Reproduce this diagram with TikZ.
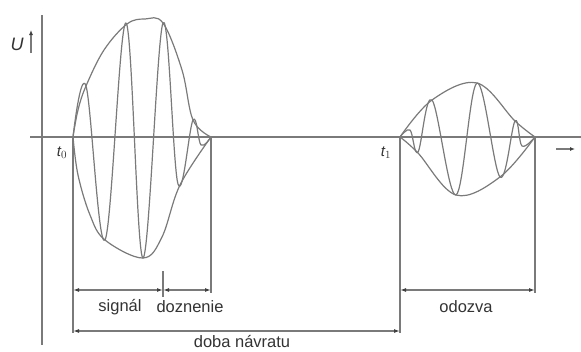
\documentclass[tikz,border=0pt]{standalone}
\usepackage{fontspec}
\setmainfont{Liberation Sans}
\usetikzlibrary{arrows.meta}
\definecolor{ln}{HTML}{7A7A7A}
\definecolor{hd}{HTML}{404040}
\definecolor{tx}{HTML}{333333}
\begin{document}
\begin{tikzpicture}[x=1pt,y=-1pt,
  axis/.style={draw=ln, line width=1.6pt},
  wave/.style={draw=ln, line width=1.2pt, line join=round},
  ext/.style={draw=ln, line width=1.3pt},
  dim/.style={draw=ln, line width=1.2pt, {Latex[length=6pt,width=4pt,color=hd]}-{Latex[length=6pt,width=4pt,color=hd]}},
  lbl/.style={text=tx, font=\fontsize{16.5}{17}\selectfont, inner sep=0pt},
  tlbl/.style={text=tx, font=\fontsize{15}{15}\selectfont\itshape, inner sep=0pt}]
\useasboundingbox (0,0) rectangle (581,351);
% axes
\coordinate (ytop) at (42,15); \coordinate (ybot) at (42,345);
\coordinate (xl) at (30,137); \coordinate (xr) at (581,137);
\draw[axis] (ytop) -- (ybot);
\draw[axis] (xl) -- (xr);
% labels on axes
\node[lbl, font=\fontsize{18}{18}\selectfont\itshape] (U) at (17,44) {U};
\coordinate (ua1) at (31,53); \coordinate (ua2) at (31,30);
\draw[draw=ln, line width=1.3pt, -{Latex[length=5pt,width=4pt,color=hd]}] (ua1) -- (ua2);
\coordinate (ta1) at (556,149); \coordinate (ta2) at (575,149);
\draw[draw=ln, line width=1.3pt, -{Latex[length=5pt,width=4pt,color=hd]}] (ta1) -- (ta2);
\node[tlbl] (t0) at (62,153) {t$_0$};
\node[tlbl] (t1) at (386,153) {t$_1$};
% signal 1 envelope
\draw[wave] plot[smooth, tension=0.6] coordinates {(73,137) (78,110) (86,86) (104,50) (127,24) (145,19) (163,23) (182,70) (193,120) (211,137)};
\draw[wave] plot[smooth, tension=0.6] coordinates {(73,137) (78,175) (90,215) (105,240) (143,258) (162,237) (180,185) (211,137)};
% signal 1 wave
\draw[wave] plot[smooth, tension=0.6] coordinates {(73,137) (86,86) (105,240) (126,23) (143,258) (163,23) (178,184) (193,120) (201,145) (211,137)};
% signal 2 envelope
\draw[wave] plot[smooth, tension=0.6] coordinates {(400,137) (432,100) (477,83) (515,121) (535,137)};
\draw[wave] plot[smooth, tension=0.6] coordinates {(400,137) (418,153) (456,195) (500,177) (535,137)};
% signal 2 wave
\draw[wave] plot[smooth, tension=0.6] coordinates {(400,137) (410,130) (418,152) (432,100) (456,195) (477,83) (500,177) (515,121) (522,146) (535,137)};
% extension lines
\coordinate (e1a) at (73,137); \coordinate (e1b) at (73,333);
\coordinate (e2a) at (211,137); \coordinate (e2b) at (211,293);
\coordinate (e3a) at (400,137); \coordinate (e3b) at (400,333);
\coordinate (e4a) at (535,137); \coordinate (e4b) at (535,293);
\draw[ext] (e1a) -- (e1b);
\draw[ext] (e2a) -- (e2b);
\draw[ext] (e3a) -- (e3b);
\draw[ext] (e4a) -- (e4b);
% dimension lines
\coordinate (s1) at (73,290); \coordinate (s2) at (163,290); \coordinate (s3) at (211,290);
\coordinate (tk1) at (163,271); \coordinate (tk2) at (163,297);
\draw[ext] (tk1) -- (tk2);
\draw[dim] (s1) -- (s2);
\draw[dim] (s2) -- (s3);
\coordinate (d1) at (73,331); \coordinate (d2) at (400,331);
\draw[dim] (d1) -- (d2);
\coordinate (o1) at (400,290); \coordinate (o2) at (535,290);
\draw[dim] (o1) -- (o2);
% text
\node[lbl] (sig) at (120,307) {signál};
\node[lbl] (doz) at (190,307) {doznenie};
\node[lbl] (odo) at (466,307) {odozva};
\node[lbl] (dob) at (242,342) {doba návratu};
\end{tikzpicture}
\end{document}
